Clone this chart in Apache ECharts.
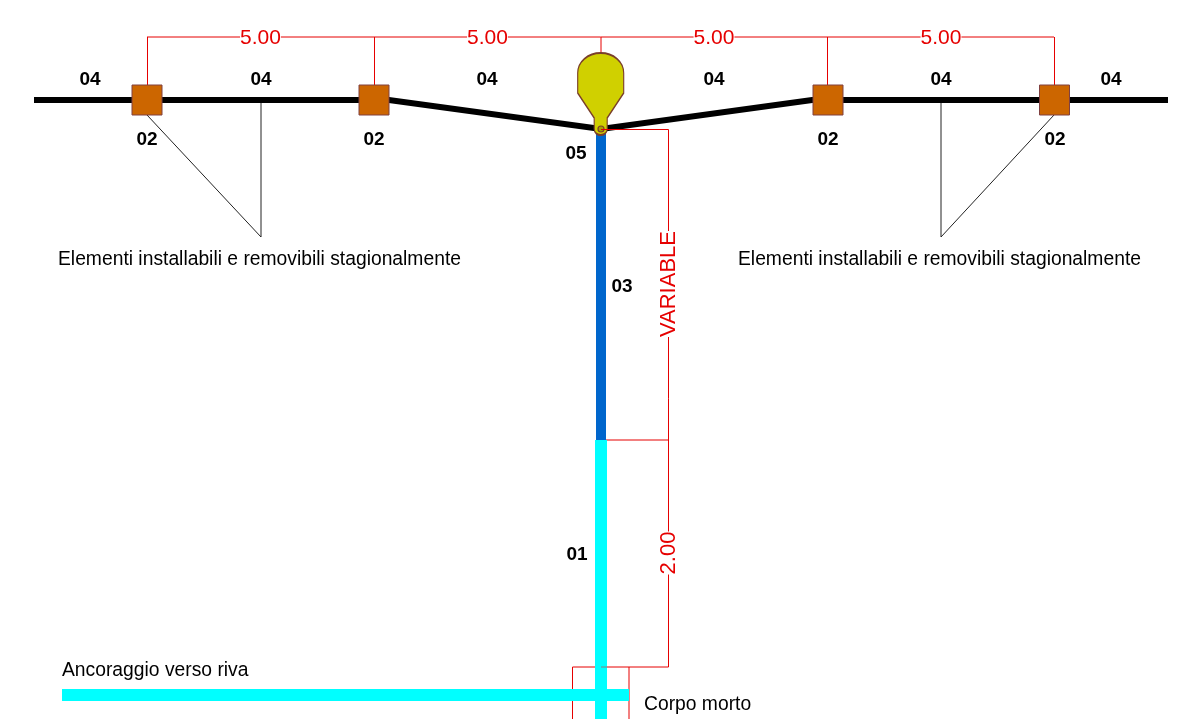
<!DOCTYPE html>
<html><head><meta charset="utf-8">
<style>html,body{margin:0;padding:0;background:#fff}#c{width:1177px;height:719px}</style>
<script src="https://cdn.jsdelivr.net/npm/echarts@6/dist/echarts.min.js"></script>
</head><body><div id="c"></div>
<script>
const floatLine = [[34,100],[389,100],[601,129],[812,100],[1168,100]];
const blueRiser = [[601,130],[601,440]];
const cyanRiser = [[601,440],[601,719]];
const cyanAnchor = [[62,695],[629,695]];
const floatBoxes = [[147,100],[374,100],[828,100],[1054.5,100]];
const buoyCenter = [[600.7,94]];
const buoyEye = [[601,129]];
const dimTop = [[147,37],[1054,37]];
const dimDrops = [[[147.5,37],[147.5,85]],[[374.5,37],[374.5,85]],[[601,37],[601,53]],[[827.5,37],[827.5,85]],[[1054.5,37],[1054.5,85]]];
const dimRight = [[601,129.5],[668.5,129.5],[668.5,667],[572.5,667],[572.5,719]];
const dimMid = [[601,440],[668,440]];
const dimBoxRight = [[629,667],[629,719]];
const leaderLeft = [[147,115],[261,237],[261,100]];
const leaderRight = [[941,100],[941,237],[1054,115]];
const boldLabels = [['04',90,80],['04',261,80],['04',487,80],['04',714,80],['04',941,80],['04',1111,80],['02',147,140],['02',374,140],['02',828,140],['02',1055,140],['05',576,154],['03',622,287],['01',577,555]];
const dimLabels = [['5.00',260.5,38],['5.00',487.5,38],['5.00',714,38],['5.00',941,38]];
const dimLabelsV = [['VARIABLE',669,284],['2.00',669,553]];
const noteLabels = [['Elementi installabili e removibili stagionalmente',58,260],['Elementi installabili e removibili stagionalmente',738,260],['Ancoraggio verso riva',62,671],['Corpo morto',644,705]];
const RED='#e60000', FONT='"Liberation Sans",Arial,sans-serif';
const BUOY='path://M0,20 C0,9 10,0 23,0 C36,0 46,9 46,20 L46,40 L29.5,65 L29.5,76 C29.5,84 16.5,84 16.5,76 L16.5,65 L0,40 Z';
function line(data,color,width,z){return {type:'line',data,symbol:'none',silent:true,animation:false,z,lineStyle:{color,width,cap:'butt',join:'miter'}};}
function texts(rows,label,z){return {type:'scatter',symbol:'circle',symbolSize:1,itemStyle:{color:'transparent',opacity:1},silent:true,animation:false,z,data:rows.map(r=>({value:[r[1],r[2]],name:r[0]})),label:Object.assign({show:true,position:'inside',formatter:p=>p.name,fontFamily:FONT},label),labelLayout:{hideOverlap:false}};}
const chart=echarts.init(document.getElementById('c'),null,{renderer:'canvas'});
chart.setOption({
 animation:false,backgroundColor:'#fff',
 grid:{left:0,right:0,top:0,bottom:0},
 xAxis:{type:'value',min:0,max:1177,show:false},
 yAxis:{type:'value',min:0,max:719,inverse:true,show:false},
 series:[
  line(dimTop,RED,1,2),
  ...dimDrops.map(d=>line(d,RED,1,2)),
  line(dimRight,RED,1,2),line(dimMid,RED,1,2),line(dimBoxRight,RED,1,2),
  line(leaderLeft,'#222',1,2),line(leaderRight,'#222',1,2),
  line(cyanRiser,'#00ffff',12,3),line(cyanAnchor,'#00ffff',12,3),
  line(blueRiser,'#0066cc',10,4),
  line(floatLine,'#000',6,5),
  line([[601,667],[607,667]],'#808080',1,6),
  {type:'scatter',data:floatBoxes,symbol:'rect',symbolSize:30,silent:true,animation:false,z:6,itemStyle:{color:'#cc6600',borderColor:'#804040',borderWidth:1,opacity:1}},
  {type:'scatter',data:buoyCenter,symbol:BUOY,symbolSize:[46,82],silent:true,animation:false,z:7,itemStyle:{color:'#d0d000',borderColor:'#7a3f2a',borderWidth:1.5,opacity:1}},
  {type:'scatter',data:buoyEye,symbol:'circle',symbolSize:6,silent:true,animation:false,z:8,itemStyle:{color:'#a8a000',borderColor:'#7a3f2a',borderWidth:1.2,opacity:1}},
  line([[601,129.5],[668,129.5]],RED,1,9),
  texts(boldLabels,{fontSize:19,fontWeight:'bold',color:'#000',align:'center',verticalAlign:'middle'},10),
  texts(dimLabels,{fontSize:21,color:RED,align:'center',verticalAlign:'middle',backgroundColor:'#fff'},10),
  texts(dimLabelsV,{fontSize:22,color:RED,align:'center',verticalAlign:'middle',rotate:90,backgroundColor:'#fff'},10),
  texts(noteLabels,{fontSize:19.3,color:'#000',align:'left',verticalAlign:'middle'},10)
 ]
});
</script></body></html>
